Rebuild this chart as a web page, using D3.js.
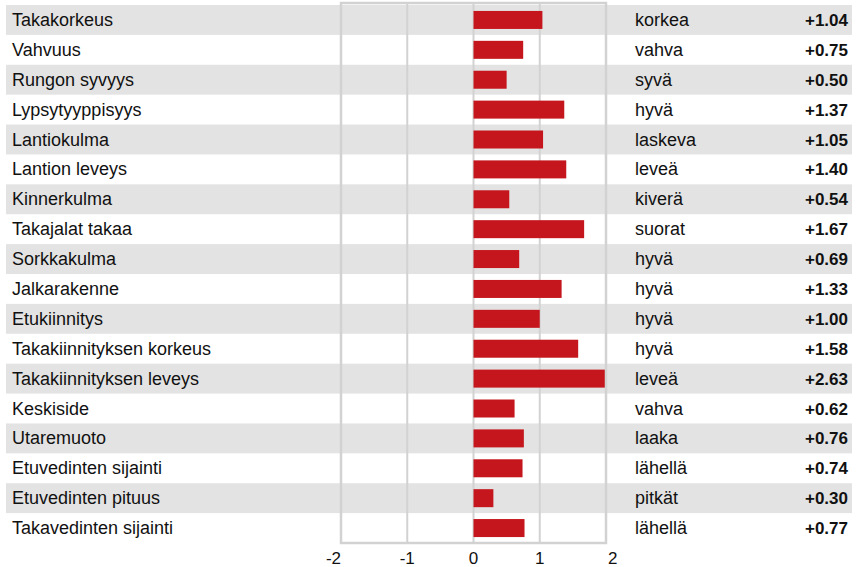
<!DOCTYPE html>
<html>
<head>
<meta charset="utf-8">
<script src="https://cdn.jsdelivr.net/npm/d3@7"></script>
<style>
  body { margin: 0; background: #fff; }
  text { font-family: "Liberation Sans", Arial, Helvetica, sans-serif; fill: #111; }
</style>
</head>
<body>
<script>
"use strict";
const traits = ["Takakorkeus", "Vahvuus", "Rungon syvyys", "Lypsytyyppisyys", "Lantiokulma",
    "Lantion leveys", "Kinnerkulma", "Takajalat takaa", "Sorkkakulma", "Jalkarakenne",
    "Etukiinnitys", "Takakiinnityksen korkeus", "Takakiinnityksen leveys", "Keskiside",
    "Utaremuoto", "Etuvedinten sijainti", "Etuvedinten pituus", "Takavedinten sijainti"];
const descriptions = ["korkea", "vahva", "syvä", "hyvä", "laskeva", "leveä", "kiverä", "suorat",
    "hyvä", "hyvä", "hyvä", "hyvä", "leveä", "vahva", "laaka", "lähellä", "pitkät", "lähellä"];
const values = [1.04, 0.75, 0.50, 1.37, 1.05, 1.40, 0.54, 1.67, 0.69, 1.33, 1.00, 1.58, 2.63,
    0.62, 0.76, 0.74, 0.30, 0.77];
const ticks = [-2, -1, 0, 1, 2];

(function() {
    const width = 856, height = 567;
    const svg = d3.select("body").append("svg")
        .attr("width", width)
        .attr("height", height);

    const y = d3.scaleBand()
        .domain(d3.range(traits.length))
        .range([5, 543]);

    const x = d3.scaleLinear()
        .domain([-2, 2])
        .range([341, 606])
        .clamp(true);

    // alternating row bands
    svg.selectAll(".band")
        .data(d3.range(traits.length).filter(i => i % 2 === 0))
        .enter()
        .append("rect")
            .attr("x", 6)
            .attr("y", i => y(i))
            .attr("width", 846)
            .attr("height", y.bandwidth())
            .attr("fill", "#e3e3e3");

    // grid lines
    svg.selectAll(".grid")
        .data(ticks.slice(1, -1))
        .enter()
        .append("line")
            .attr("x1", d => x(d))
            .attr("x2", d => x(d))
            .attr("y1", 3)
            .attr("y2", 543)
            .attr("stroke", "#d2d2d2")
            .attr("stroke-width", 2);

    // bars
    const barH = 18;
    svg.selectAll(".bar")
        .data(values)
        .enter()
        .append("rect")
            .attr("x", d => Math.min(x(0), x(d)))
            .attr("y", (d, i) => y(i) + (y.bandwidth() - barH) / 2)
            .attr("width", d => Math.abs(x(d) - x(0)))
            .attr("height", barH)
            .attr("fill", "#c4161c");

    // frame on top of the bars
    svg.append("rect")
        .attr("x", x(-2))
        .attr("y", 3)
        .attr("width", x(2) - x(-2))
        .attr("height", 540)
        .attr("fill", "none")
        .attr("stroke", "#d2d2d2")
        .attr("stroke-width", 2.5);

    const textY = i => y(i) + y.bandwidth() / 2 + 6;

    svg.selectAll(".trait")
        .data(traits)
        .enter()
        .append("text")
            .attr("x", 12)
            .attr("y", (d, i) => textY(i))
            .attr("font-size", 18)
            .text(d => d);

    svg.selectAll(".desc")
        .data(descriptions)
        .enter()
        .append("text")
            .attr("x", 635)
            .attr("y", (d, i) => textY(i))
            .attr("font-size", 18)
            .text(d => d);

    svg.selectAll(".val")
        .data(values)
        .enter()
        .append("text")
            .attr("x", 848)
            .attr("y", (d, i) => textY(i))
            .attr("font-size", 17)
            .attr("font-weight", "bold")
            .attr("text-anchor", "end")
            .text(d => (d >= 0 ? "+" : "") + d.toFixed(2));

    // axis tick labels
    svg.selectAll(".tick")
        .data(ticks)
        .enter()
        .append("text")
            .attr("x", (d, i) => i === ticks.length - 1 ? x(d) + 2 : x(d))
            .attr("y", 564)
            .attr("font-size", 17)
            .attr("text-anchor", (d, i) => i === 0 ? "end" : (i === ticks.length - 1 ? "start" : "middle"))
            .text(d => d);
})();
</script>
</body>
</html>
